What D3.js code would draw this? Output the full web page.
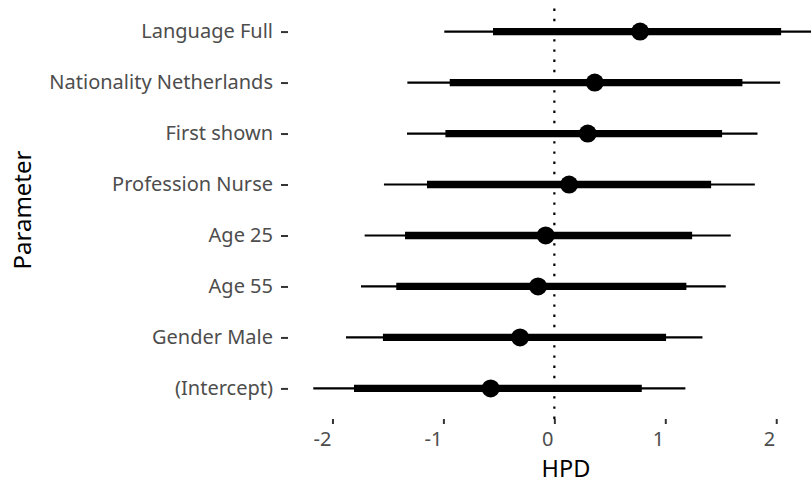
<!DOCTYPE html>
<html>
<head>
<meta charset="utf-8">
<script src="https://cdn.jsdelivr.net/npm/d3@7"></script>
<style>
  body { margin: 0; background: #fff; }
  svg { display: block; font-family: "Noto Sans", sans-serif; }
  .axis text { fill: #4d4d4d; }
  .axis line { stroke: #333; stroke-width: 2; }
</style>
</head>
<body>
<div class="data"></div>
<script>
const parameters = ["Language Full", "Nationality Netherlands", "First shown", "Profession Nurse",
    "Age 25", "Age 55", "Gender Male", "(Intercept)"]
const estimate = [0.773, 0.364, 0.301, 0.133, -0.078, -0.147, -0.309, -0.574]
const innerLow = [-0.553, -0.943, -0.982, -1.148, -1.346, -1.425, -1.545, -1.806]
const innerHigh = [2.044, 1.695, 1.512, 1.413, 1.242, 1.190, 1.007, 0.788]
const outerLow = [-0.992, -1.325, -1.328, -1.536, -1.710, -1.743, -1.878, -2.173]
const outerHigh = [2.383, 2.035, 1.831, 1.807, 1.590, 1.545, 1.335, 1.181]
const xTicks = [-2, -1, 0, 1, 2]

const W = 811, H = 486
const panel = {left: 288, right: 844, top: 1, bottom: 419}

const data = parameters.map(function(p, i) {
    return {name: p, est: estimate[i], lo: innerLow[i], hi: innerHigh[i], lo2: outerLow[i], hi2: outerHigh[i]}
})

// ggplot style 5% expansion around the outer intervals
const xmin = d3.min(outerLow), xmax = d3.max(outerHigh)
const pad = (xmax - xmin) * 0.05

const x = d3.scaleLinear()
    .domain([xmin - pad, xmax + pad])
    .range([panel.left, panel.right])

const y = d3.scalePoint()
    .domain(parameters)
    .range([panel.top, panel.bottom])
    .padding(0.6)

const svg = d3.select(".data").append("svg")
    .attr("width", W)
    .attr("height", H)

// zero reference line
svg.append("line")
    .attr("x1", x(0)).attr("x2", x(0))
    .attr("y1", panel.bottom).attr("y2", panel.top)
    .attr("stroke", "#000")
    .attr("stroke-width", 2.2)
    .attr("stroke-dasharray", "2.4,7.8")

const row = svg.selectAll(".row")
    .data(data)
    .enter().append("g")
    .attr("class", "row")

row.append("line")
    .attr("x1", function(d) { return x(d.lo2) })
    .attr("x2", function(d) { return x(d.hi2) })
    .attr("y1", function(d) { return y(d.name) })
    .attr("y2", function(d) { return y(d.name) })
    .attr("stroke", "#000")
    .attr("stroke-width", 2.2)

row.append("line")
    .attr("x1", function(d) { return x(d.lo) })
    .attr("x2", function(d) { return x(d.hi) })
    .attr("y1", function(d) { return y(d.name) })
    .attr("y2", function(d) { return y(d.name) })
    .attr("stroke", "#000")
    .attr("stroke-width", 7.3)

row.append("circle")
    .attr("cx", function(d) { return x(d.est) })
    .attr("cy", function(d) { return y(d.name) })
    .attr("r", 9)
    .attr("fill", "#000")

const yAxis = svg.append("g")
    .attr("class", "axis")
    .attr("transform", "translate(" + panel.left + ",0)")
    .call(d3.axisLeft(y).tickSize(7).tickPadding(8))
    .attr("font-family", null)
    .attr("font-size", null)
yAxis.select(".domain").remove()
yAxis.selectAll("text").style("font-size", "20px")

const xAxis = svg.append("g")
    .attr("class", "axis")
    .attr("transform", "translate(0," + panel.bottom + ")")
    .call(d3.axisBottom(x).tickValues(xTicks).tickSize(5).tickPadding(8)
        .tickFormat(function(d) { return String(d) }))
    .attr("font-family", null)
    .attr("font-size", null)
xAxis.select(".domain").remove()
xAxis.selectAll("text")
    .style("font-size", "20px")
    .attr("text-anchor", "end")
    .attr("dx", "-1.5")

svg.append("text")
    .attr("x", (panel.left + panel.right) / 2)
    .attr("y", 477)
    .attr("text-anchor", "middle")
    .style("font-size", "23.5px")
    .text("HPD")

svg.append("text")
    .attr("transform", "translate(31," + (panel.top + panel.bottom) / 2 + ") rotate(-90)")
    .attr("text-anchor", "middle")
    .style("font-size", "24px")
    .text("Parameter")
</script>
</body>
</html>
